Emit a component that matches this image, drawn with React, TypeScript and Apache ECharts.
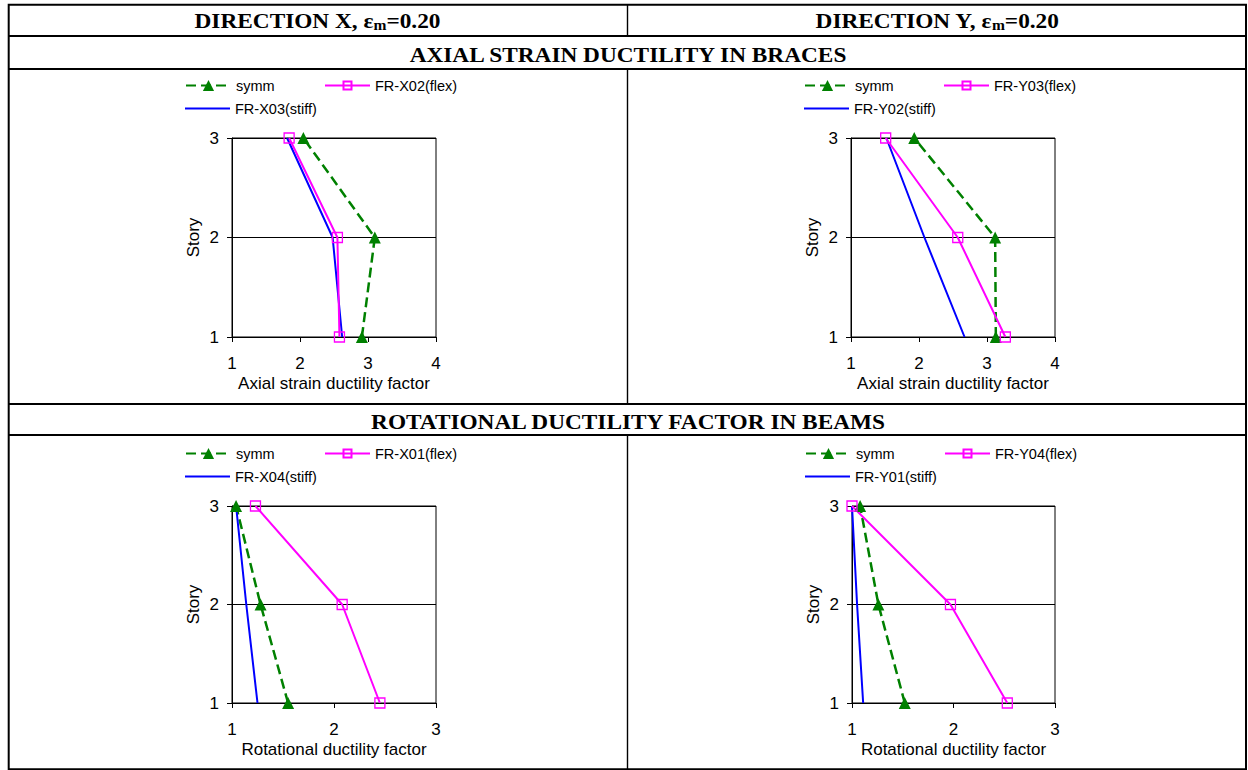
import React, { useEffect, useRef } from "react";
import * as echarts from "echarts";

// Story levels (y values)
const stories = [1, 2, 3];

// Axial strain ductility in braces - Direction X
const axialXSymm = [2.91, 3.1, 2.05];
const axialXFlex = [2.58, 2.55, 1.84];
const axialXStiff = [2.62, 2.48, 1.81];
// Axial strain ductility in braces - Direction Y
const axialYSymm = [3.13, 3.12, 1.93];
const axialYFlex = [3.27, 2.57, 1.51];
const axialYStiff = [2.67, 2.08, 1.52];
// Rotational ductility in beams - Direction X
const rotXSymm = [1.55, 1.28, 1.04];
const rotXFlex = [2.45, 2.08, 1.23];
const rotXStiff = [1.25, 1.14, 1.04];
// Rotational ductility in beams - Direction Y
const rotYSymm = [1.52, 1.26, 1.08];
const rotYFlex = [2.53, 1.97, 1.0];
const rotYStiff = [1.11, 1.05, 1.0];

const storyTicks = [1, 2, 3];

const FONT = "'Liberation Sans', Arial, sans-serif";
const SERIF = "'Liberation Serif', 'Times New Roman', serif";

type Panel = {
  left: number;
  top: number;
  width: number;
  height: number;
  xMax: number;
  xName: string;
  names: [string, string, string];
  symm: number[];
  flex: number[];
  stiff: number[];
};

const panels: Panel[] = [
  { left: 232, top: 138, width: 204, height: 199, xMax: 4, xName: "Axial strain ductility factor",
    names: ["symm", "FR-X02(flex)", "FR-X03(stiff)"], symm: axialXSymm, flex: axialXFlex, stiff: axialXStiff },
  { left: 851, top: 138, width: 204, height: 199, xMax: 4, xName: "Axial strain ductility factor",
    names: ["symm", "FR-Y03(flex)", "FR-Y02(stiff)"], symm: axialYSymm, flex: axialYFlex, stiff: axialYStiff },
  { left: 232, top: 506, width: 204, height: 197, xMax: 3, xName: "Rotational ductility factor",
    names: ["symm", "FR-X01(flex)", "FR-X04(stiff)"], symm: rotXSymm, flex: rotXFlex, stiff: rotXStiff },
  { left: 852, top: 506, width: 203, height: 197, xMax: 3, xName: "Rotational ductility factor",
    names: ["symm", "FR-Y04(flex)", "FR-Y01(stiff)"], symm: rotYSymm, flex: rotYFlex, stiff: rotYStiff },
];

const pairs = (vals: number[]) => vals.map((v, i) => [v, stories[i]]);

function buildOption() {
  const grid: any[] = [];
  const xAxis: any[] = [];
  const yAxis: any[] = [];
  const series: any[] = [];
  const legend: any[] = [];

  panels.forEach((p, i) => {
    grid.push({
      left: p.left, top: p.top, width: p.width, height: p.height,
      show: true, borderColor: "#000", borderWidth: 1, backgroundColor: "transparent",
    });
    xAxis.push({
      gridIndex: i, type: "value", min: 1, max: p.xMax, interval: 1,
      axisLine: { show: true, onZero: false, lineStyle: { color: "#000", width: 1 } },
      axisTick: { show: true, length: 5, lineStyle: { color: "#000" } },
      axisLabel: { fontSize: 17, color: "#000", fontFamily: FONT, margin: 18 },
      splitLine: { show: false },
      name: p.xName, nameLocation: "middle", nameGap: 38,
      nameTextStyle: { fontSize: 17, color: "#000", fontFamily: FONT },
    });
    yAxis.push({
      gridIndex: i, type: "value", min: 1, max: 3, interval: 1,
      axisLine: { show: true, onZero: false, lineStyle: { color: "#000", width: 1 } },
      axisTick: { show: true, length: 5, lineStyle: { color: "#000" } },
      axisLabel: { fontSize: 17, color: "#000", fontFamily: FONT, margin: 13,
        formatter: (v: number) => (storyTicks.includes(v) ? String(v) : "") },
      splitLine: { show: true, lineStyle: { color: "#000", width: 1 } },
      name: "Story", nameLocation: "middle", nameGap: 30,
      nameTextStyle: { fontSize: 17, color: "#000", fontFamily: FONT },
    });
    series.push({
      name: p.names[0], type: "line", xAxisIndex: i, yAxisIndex: i,
      data: pairs(p.symm), color: "#008000",
      symbol: "triangle", symbolSize: 12,
      lineStyle: { color: "#008000", width: 2.5, type: [10, 5] },
      itemStyle: { color: "#008000" },
    });
    series.push({
      name: p.names[2], type: "line", xAxisIndex: i, yAxisIndex: i,
      data: pairs(p.stiff), color: "#0000FF",
      symbol: "none",
      lineStyle: { color: "#0000FF", width: 2 },
    });
    series.push({
      name: p.names[1], type: "line", xAxisIndex: i, yAxisIndex: i,
      data: pairs(p.flex), color: "#FF00FF",
      symbol: "rect", symbolSize: 10,
      lineStyle: { color: "#FF00FF", width: 2 },
      itemStyle: { color: "rgba(0,0,0,0)", borderColor: "#FF00FF", borderWidth: 1.3 },
    });
    const base = {
      padding: 0, itemWidth: 45, itemHeight: 14, selectedMode: false,
      textStyle: { fontSize: 14.5, color: "#000", fontFamily: FONT },
    };
    const dy = p.top - 138;
    legend.push({ ...base, data: [p.names[0]], left: p.left - 47, top: 78 + dy });
    legend.push({ ...base, itemHeight: 10, data: [p.names[1]], left: p.left + 92, top: 78 + dy });
    legend.push({ ...base, itemHeight: 2, data: [{ name: p.names[2], icon: "rect" }], left: p.left - 47, top: 101 + dy });
  });

  const hdr = (text: string, x: number, y: number) => ({
    type: "text", x, y, scaleX: 1.11,
    style: {
      text, fill: "#000", align: "center", verticalAlign: "middle",
      fontSize: 21, fontWeight: "bold", fontFamily: SERIF,
    },
  });
  const hdrSub = (dir: string, x: number, y: number) => ({
    type: "text", x, y, scaleX: 1.11,
    style: {
      text: `{a|DIRECTION ${dir}, ε}{b|m}{a|=0.20}`, fill: "#000", align: "center", verticalAlign: "middle",
      rich: {
        a: { fontSize: 21, fontWeight: "bold", fontFamily: SERIF, lineHeight: 22 },
        b: { fontSize: 14, fontWeight: "bold", fontFamily: SERIF, verticalAlign: "bottom", lineHeight: 12 },
      },
    },
  });
  const hline = (y: number) => ({
    type: "line", shape: { x1: 8, y1: y, x2: 1247, y2: y }, style: { stroke: "#000", lineWidth: 2 },
  });
  const vline = (y1: number, y2: number) => ({
    type: "line", shape: { x1: 627.5, y1, x2: 627.5, y2 }, style: { stroke: "#000", lineWidth: 1.4 },
  });

  const graphic = [
    { type: "rect", shape: { x: 8.7, y: 4.7, width: 1237.3, height: 764.5 }, style: { fill: "none", stroke: "#000", lineWidth: 2 } },
    hline(36),
    hline(69),
    hline(404),
    hline(435),
    vline(5, 36),
    vline(69, 404),
    vline(435, 769),
    hdrSub("X", 317.5, 21),
    hdrSub("Y", 937, 21),
    hdr("AXIAL STRAIN DUCTILITY IN BRACES", 628, 55),
    hdr("ROTATIONAL DUCTILITY FACTOR IN BEAMS", 628, 422),
  ];

  return {
    animation: false,
    backgroundColor: "#fff",
    textStyle: { fontFamily: FONT },
    grid, xAxis, yAxis, series, legend, graphic,
  };
}

export default function App() {
  const ref = useRef<HTMLDivElement>(null);
  useEffect(() => {
    if (!ref.current) return;
    const chart = echarts.init(ref.current, undefined, { renderer: "svg" });
    chart.setOption(buildOption() as any);
    return () => chart.dispose();
  }, []);
  return (
    <div
      ref={ref}
      style={{ position: "absolute", left: 0, top: 0, width: 1248, height: 770, background: "#fff" }}
    />
  );
}
